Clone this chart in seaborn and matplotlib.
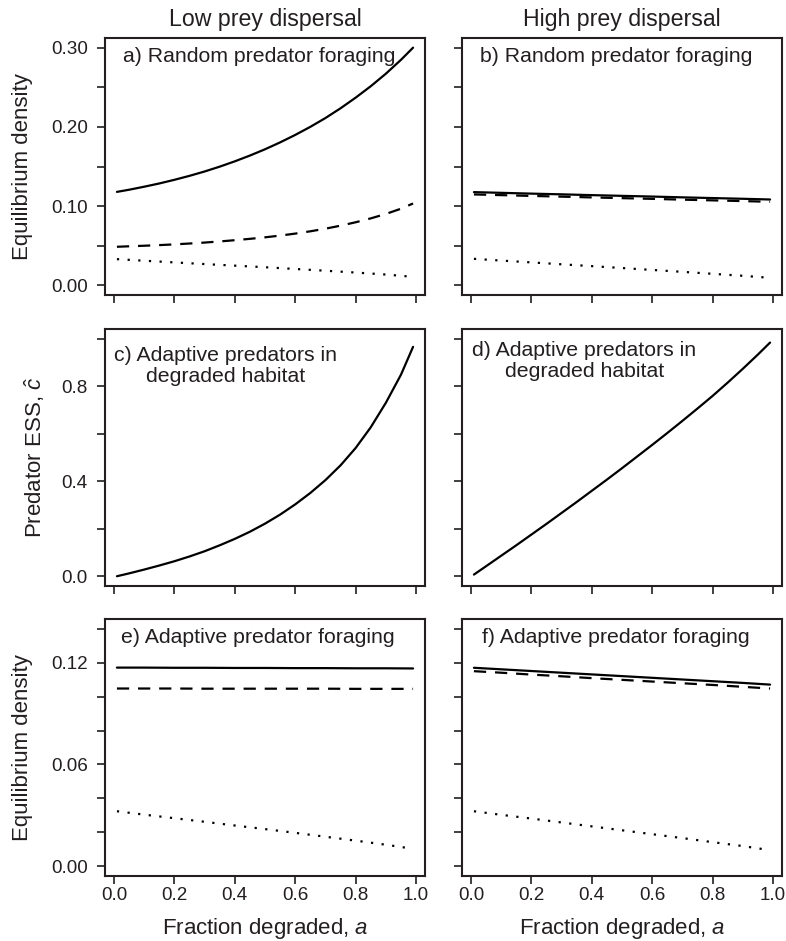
import matplotlib
matplotlib.use("Agg")
import matplotlib.pyplot as plt
import pandas as pd
import seaborn as sns

sns.set_style("ticks")
plt.rcParams["font.family"] = ["Liberation Sans", "DejaVu Sans"]
plt.rcParams["mathtext.fontset"] = "custom"
plt.rcParams["mathtext.rm"] = "Liberation Sans"
plt.rcParams["mathtext.it"] = "Liberation Sans:italic"

INK = "#231f20"

# Fraction of habitat degraded, a (coarse grid for near-straight lines,
# fine grid for the strongly curved ones)
frac_coarse = [0.01, 0.1, 0.2, 0.3, 0.4, 0.5, 0.6, 0.7, 0.8, 0.9, 0.99]
frac_fine = [0.01, 0.05, 0.1, 0.15, 0.2, 0.25, 0.3, 0.35, 0.4, 0.45, 0.5,
             0.55, 0.6, 0.65, 0.7, 0.75, 0.8, 0.85, 0.9, 0.95, 0.99]

# a) Random predator foraging, low prey dispersal
low_random_s1 = [0.1180, 0.1207, 0.1245, 0.1286, 0.1332, 0.1382, 0.1437, 0.1498,
                 0.1565, 0.1638, 0.1717, 0.1804, 0.1898, 0.2000, 0.2111, 0.2234,
                 0.2368, 0.2512, 0.2670, 0.2845, 0.2998]
low_random_s2 = [0.0488, 0.0494, 0.0501, 0.0509, 0.0518, 0.0529, 0.0541, 0.0555,
                 0.0571, 0.0588, 0.0607, 0.0629, 0.0654, 0.0683, 0.0716, 0.0754,
                 0.0797, 0.0846, 0.0902, 0.0968, 0.1034]
low_random_s3 = [0.0332, 0.0312, 0.0291, 0.0270, 0.0250, 0.0230, 0.0208, 0.0186,
                 0.0163, 0.0138, 0.0109]

# b) Random predator foraging, high prey dispersal
high_random_s1 = [0.1177, 0.1168, 0.1158, 0.1149, 0.1139, 0.1130, 0.1121, 0.1111,
                  0.1102, 0.1093, 0.1084]
high_random_s2 = [0.1148, 0.1139, 0.1129, 0.1120, 0.1110, 0.1101, 0.1092, 0.1082,
                  0.1073, 0.1064, 0.1055]
high_random_s3 = [0.0336, 0.0314, 0.0291, 0.0267, 0.0244, 0.0220, 0.0196, 0.0172,
                  0.0147, 0.0122, 0.0097]

# c), d) Predator ESS in degraded habitat
low_ess = [0.001, 0.013, 0.029, 0.046, 0.064, 0.084, 0.106, 0.131, 0.158, 0.188,
           0.222, 0.260, 0.303, 0.351, 0.405, 0.467, 0.540, 0.627, 0.730, 0.848,
           0.965]
high_ess = [0.008, 0.043, 0.087, 0.131, 0.176, 0.221, 0.267, 0.313, 0.360, 0.407,
            0.455, 0.504, 0.553, 0.603, 0.654, 0.706, 0.759, 0.815, 0.873, 0.933,
            0.983]

# e) Adaptive predator foraging, low prey dispersal
low_adapt_s1 = [0.1170, 0.1170, 0.1169, 0.1169, 0.1168, 0.1168, 0.1167, 0.1167,
                0.1166, 0.1166, 0.1165]
low_adapt_s2 = [0.1047, 0.1047, 0.1047, 0.1046, 0.1046, 0.1046, 0.1046, 0.1046,
                0.1045, 0.1045, 0.1045]
low_adapt_s3 = [0.0325, 0.0305, 0.0284, 0.0263, 0.0241, 0.0220, 0.0198, 0.0175,
                0.0152, 0.0128, 0.0104]

# f) Adaptive predator foraging, high prey dispersal
high_adapt_s1 = [0.1169, 0.1160, 0.1150, 0.1140, 0.1130, 0.1120, 0.1110, 0.1100,
                 0.1090, 0.1080, 0.1070]
high_adapt_s2 = [0.1149, 0.1140, 0.1129, 0.1119, 0.1108, 0.1098, 0.1088, 0.1078,
                 0.1068, 0.1057, 0.1047]
high_adapt_s3 = [0.0325, 0.0304, 0.0282, 0.0259, 0.0236, 0.0213, 0.0190, 0.0167,
                 0.0143, 0.0120, 0.0096]

column_titles = ["Low prey dispersal", "High prey dispersal"]
x_ticks = [0.0, 0.2, 0.4, 0.6, 0.8, 1.0]
x_ticklabels = ["0.0", "0.2", "0.4", "0.6", "0.8", "1.0"]

row_y_ticks = [
    [0.00, 0.05, 0.10, 0.15, 0.20, 0.25, 0.30],
    [0.0, 0.2, 0.4, 0.6, 0.8, 1.0],
    [0.00, 0.02, 0.04, 0.06, 0.08, 0.10, 0.12, 0.14],
]
row_y_ticklabels = [
    ["0.00", "", "0.10", "", "0.20", "", "0.30"],
    ["0.0", "", "0.4", "", "0.8", ""],
    ["0.00", "", "", "0.06", "", "", "0.12", ""],
]
row_ylims = [(-0.012, 0.312), (-0.04, 1.04), (-0.0056, 0.1456)]

line_dashes = {"s1": "", "s2": (5.5, 4.0), "s3": (1.0, 3.8)}


def long_frame(series):
    rows = []
    for key, vals in series.items():
        xs = frac_fine if len(vals) == len(frac_fine) else frac_coarse
        for a, v in zip(xs, vals):
            rows.append({"a": a, "value": v, "series": key})
    return pd.DataFrame(rows)


panels = [
    (0, 0, {"s1": low_random_s1, "s2": low_random_s2, "s3": low_random_s3},
     ["a) Random predator foraging"]),
    (0, 1, {"s1": high_random_s1, "s2": high_random_s2, "s3": high_random_s3},
     ["b) Random predator foraging"]),
    (1, 0, {"s1": low_ess}, ["c) Adaptive predators in", "degraded habitat"]),
    (1, 1, {"s1": high_ess}, ["d) Adaptive predators in", "degraded habitat"]),
    (2, 0, {"s1": low_adapt_s1, "s2": low_adapt_s2, "s3": low_adapt_s3},
     ["e) Adaptive predator foraging"]),
    (2, 1, {"s1": high_adapt_s1, "s2": high_adapt_s2, "s3": high_adapt_s3},
     ["f) Adaptive predator foraging"]),
]

W, H = 786, 941
fig = plt.figure(figsize=(W / 100, H / 100), dpi=100)
fig.patch.set_facecolor("white")

col_left = [105, 462]
row_top = [38, 329, 619]
box_w, box_h = 320, 257

label_x = {(0, 0): 0.055, (0, 1): 0.056, (2, 0): 0.049, (2, 1): 0.0615}

for row, col, series, lines in panels:
    rect = [col_left[col] / W, 1 - (row_top[row] + box_h) / H, box_w / W, box_h / H]
    ax = fig.add_axes(rect)
    df = long_frame(series)
    sns.lineplot(data=df, x="a", y="value", style="series",
                 dashes={k: line_dashes[k] for k in series}, color="black",
                 linewidth=1.6, estimator=None, sort=False, legend=False, ax=ax)

    ax.set_xlim(-0.0295, 1.0295)
    ax.set_ylim(*row_ylims[row])
    ax.set_xticks(x_ticks)
    ax.set_xticklabels(x_ticklabels if row == 2 else [""] * len(x_ticks))
    ax.set_yticks(row_y_ticks[row])
    ax.set_yticklabels(row_y_ticklabels[row] if col == 0 else [""] * len(row_y_ticks[row]))
    ax.tick_params(axis="both", direction="out", length=5.5, width=1.2,
                   color=INK, labelcolor=INK, labelsize=13.6)
    ax.tick_params(axis="y", pad=7)
    ax.tick_params(axis="x", pad=2.5)
    for sp in ax.spines.values():
        sp.set_visible(True)
        sp.set_linewidth(1.5)
        sp.set_color(INK)
    ax.set_facecolor("white")

    # axis titles
    ax.set_xlabel("")
    ax.set_ylabel("")
    if col == 0:
        if row == 1:
            ax.set_ylabel(r"Predator ESS, $\hat{c}$", fontsize=16, color=INK)
            ax.yaxis.set_label_coords(-0.198, 0.5)
        else:
            ax.set_ylabel("Equilibrium density", fontsize=16, color=INK)
            ax.yaxis.set_label_coords(-0.2416, 0.5)
        ax.yaxis.label.set_verticalalignment("baseline")
    if row == 2:
        ax.set_xlabel(r"Fraction degraded, $a$", fontsize=16, color=INK)
        ax.xaxis.label.set_verticalalignment("baseline")
        ax.xaxis.set_label_coords(0.5, -0.227)
    if row == 0:
        ax.text(0.5, 1.0467, column_titles[col], transform=ax.transAxes,
                ha="center", va="baseline", fontsize=16.7, color=INK)

    # panel label
    if len(lines) == 1:
        ax.text(label_x[(row, col)], 0.908, lines[0], transform=ax.transAxes,
                ha="left", va="baseline", fontsize=15.3, color=INK)
    else:
        cx = 0.378 if col == 0 else 0.383
        y1 = 0.874 if col == 0 else 0.893
        ax.text(cx, y1, lines[0], transform=ax.transAxes,
                ha="center", va="baseline", fontsize=15.3, color=INK)
        ax.text(cx, y1 - 0.0815, lines[1], transform=ax.transAxes,
                ha="center", va="baseline", fontsize=15.3, color=INK)

fig.savefig("out.png", dpi=100, facecolor="white")
